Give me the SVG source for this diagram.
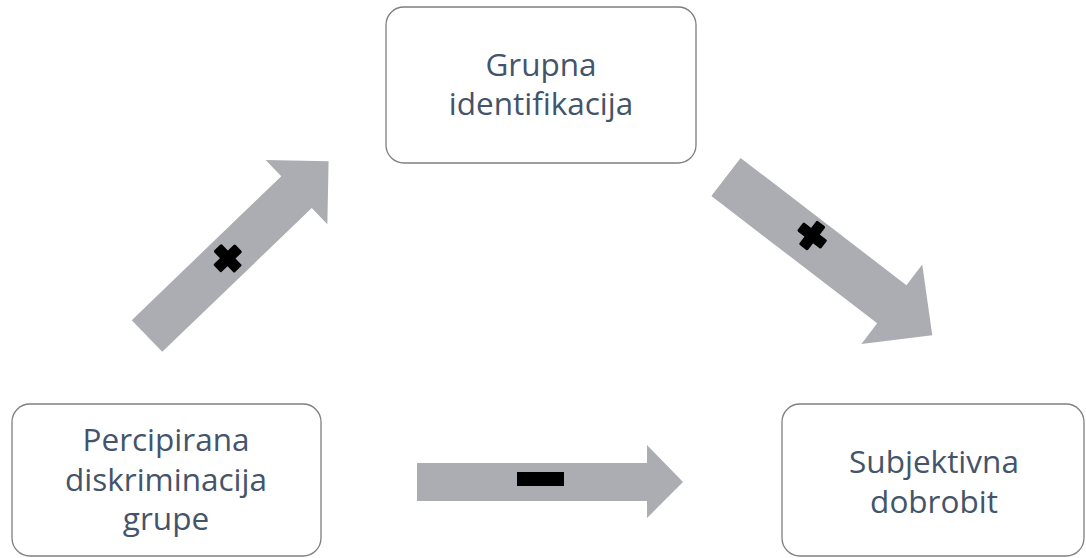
<svg xmlns="http://www.w3.org/2000/svg" width="1086" height="558" viewBox="0 0 1086 558">
<style>
.box{fill:#ffffff;stroke:#7f7f7f;stroke-width:1.3}
.lbl{font-family:"Open Sans","Noto Sans","Liberation Sans",sans-serif;font-size:31.5px;fill:#44546a;text-anchor:middle}
.arr{fill:#abadb3}
.sign{fill:#000000}
</style>
<rect width="1086" height="558" fill="#ffffff"/>
<g id="connectors">
<g id="arrow-up" transform="translate(147,336) rotate(-43.9)">
<polygon class="arr" points="0,-22 207.5,-22 207.5,-44.5 252,0 207.5,44.5 207.5,22 0,22"/>
<g transform="translate(112,0)"><rect class="sign" x="-15" y="-5.5" width="30" height="11" rx="1.5"/><rect class="sign" x="-5.5" y="-15" width="11" height="30" rx="1.5"/></g>
</g>
<g id="arrow-down" transform="translate(726,177) rotate(37.5)">
<polygon class="arr" points="0,-24 209,-24 209,-50 260,0 209,50 209,24 0,24"/>
<g transform="translate(104,-6)"><rect class="sign" x="-15" y="-5.5" width="30" height="11" rx="1.5"/><rect class="sign" x="-5.5" y="-15" width="11" height="30" rx="1.5"/></g>
</g>
<g id="arrow-right">
<polygon class="arr" points="417,463 647,463 647,445 683,482 647,518 647,501 417,501"/>
<rect class="sign" x="517" y="472" width="47" height="14"/>
</g>
</g>
<g id="node-grupna">
<rect class="box" x="386" y="7" width="310" height="156" rx="18"/>
<text class="lbl" x="541" y="76">Grupna</text>
<text class="lbl" x="541" y="115">identifikacija</text>
</g>
<g id="node-percipirana">
<rect class="box" x="12" y="404" width="309" height="152" rx="18"/>
<text class="lbl" x="166" y="451">Percipirana</text>
<text class="lbl" x="166" y="491">diskriminacija</text>
<text class="lbl" x="166" y="530">grupe</text>
</g>
<g id="node-subjektivna">
<rect class="box" x="782" y="404" width="302" height="152" rx="18"/>
<text class="lbl" x="934" y="473">Subjektivna</text>
<text class="lbl" x="934" y="513">dobrobit</text>
</g>
</svg>
